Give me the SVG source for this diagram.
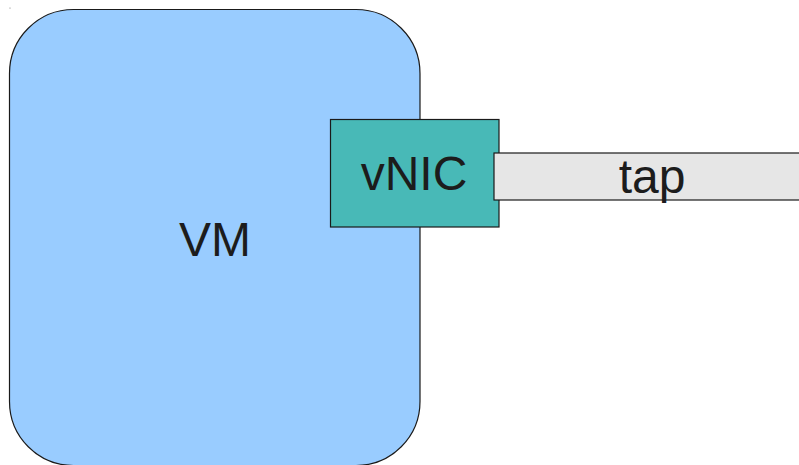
<svg xmlns="http://www.w3.org/2000/svg" width="799" height="465" viewBox="0 0 799 465">
  <style>
    .label { font-family: "Liberation Sans", Arial, sans-serif; font-size: 48px; fill: #1c1c1c; text-anchor: middle; }
    .edge { stroke: #1a1a1a; stroke-width: 1.2; }
  </style>
  <rect width="799" height="465" fill="#ffffff"/>
  <circle cx="10" cy="8" r="0.6" fill="#777777"/>
  <g id="vm">
    <rect class="edge" x="9.5" y="9.5" width="410.5" height="456" rx="64" ry="64" fill="#99ccff"/>
    <text class="label" x="215" y="256">VM</text>
  </g>
  <g id="vnic">
    <rect class="edge" x="330.5" y="119.5" width="168.5" height="107.5" fill="#48b9b7"/>
    <text class="label" x="414" y="190">vNIC</text>
  </g>
  <g id="tap">
    <rect class="edge" x="494" y="153" width="310" height="47" fill="#e6e6e6"/>
    <text class="label" x="652" y="193">tap</text>
  </g>
  <g id="connectors"/>
</svg>
